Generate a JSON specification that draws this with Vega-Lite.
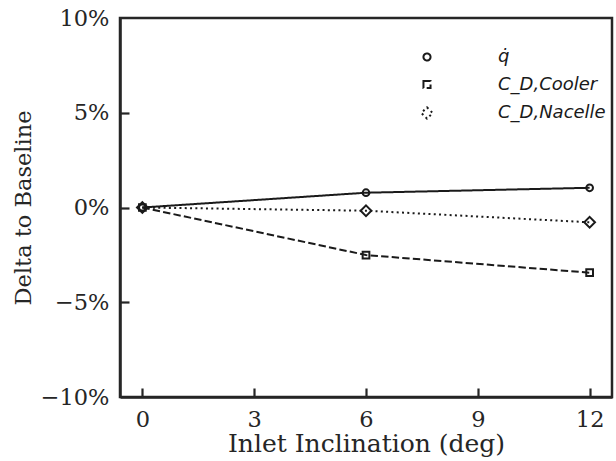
{
  "$schema": "https://vega.github.io/schema/vega-lite/v6.json",
  "width": 492,
  "height": 379,
  "autosize": "none",
  "padding": {"left": 120, "top": 18, "right": 4, "bottom": 64},
  "background": "white",
  "config": {
    "view": {"stroke": "#262626", "strokeWidth": 2.5},
    "axis": {
      "labelFont": "DejaVu Serif",
      "titleFont": "DejaVu Serif",
      "labelFontSize": 22.5,
      "labelColor": "#262626",
      "titleColor": "#262626",
      "titleFontWeight": "normal",
      "domainColor": "#262626",
      "domainWidth": 2.5,
      "tickColor": "#262626",
      "tickWidth": 2.2,
      "ticks": false,
      "labelPadding": 11,
      "grid": false
    },
    "axisX": {"titleFontSize": 25},
    "axisY": {"titleFontSize": 22.5}
  },
  "resolve": {"axis": {"x": "independent", "y": "independent"}},
  "data": {
    "values": [
      {"series": "q", "incl": 0, "delta": 0.0},
      {"series": "q", "incl": 6, "delta": 0.0078},
      {"series": "q", "incl": 12, "delta": 0.0104},
      {"series": "cooler", "incl": 0, "delta": 0.0},
      {"series": "cooler", "incl": 6, "delta": -0.0251},
      {"series": "cooler", "incl": 12, "delta": -0.0344},
      {"series": "nacelle", "incl": 0, "delta": 0.0},
      {"series": "nacelle", "incl": 6, "delta": -0.0017},
      {"series": "nacelle", "incl": 12, "delta": -0.0078}
    ]
  },
  "layer": [
    {
      "mark": {"type": "line", "strokeWidth": 2},
      "encoding": {
        "x": {
          "field": "incl", "type": "quantitative",
          "scale": {"domain": [-0.6, 12.6], "nice": false, "zero": false},
          "axis": {"orient": "bottom", "values": [0, 3, 6, 9, 12], "title": "Inlet Inclination (deg)", "titlePadding": 1}
        },
        "y": {
          "field": "delta", "type": "quantitative",
          "scale": {"domain": [-0.1, 0.1], "nice": false},
          "axis": {"orient": "left", "values": [-0.1, -0.05, 0, 0.05, 0.1], "format": ".0%", "title": "Delta to Baseline", "titlePadding": 5}
        },
        "strokeDash": {
          "field": "series", "type": "nominal",
          "scale": {"domain": ["q", "cooler", "nacelle"], "range": [[1, 0], [7.4, 3.2], [2, 3.3]]},
          "legend": null
        },
        "color": {
          "field": "series", "type": "nominal",
          "scale": {"domain": ["q", "cooler", "nacelle"], "range": ["#1a1a1a", "#1a1a1a", "#1a1a1a"]},
          "legend": {
            "orient": "none", "legendX": 298, "legendY": 30, "title": null, "padding": 0,
            "symbolType": {"expr": "datum.value == 'q' ? 'M-15.556,0L15.556,0 M-0.99,0A0.99,0.99,0,1,1,0.99,0A0.99,0.99,0,1,1,-0.99,0Z' : datum.value == 'cooler' ? 'M-15.556,0L-13.463,0 M-12.558,0L-10.465,0 M-9.56,0L-7.467,0 M-6.562,0L-4.469,0 M-3.564,0L-1.471,0 M-0.566,0L0.566,0 M1.471,0L3.564,0 M4.469,0L6.562,0 M7.467,0L9.56,0 M10.465,0L12.558,0 M13.463,0L15.556,0 M-0.99,-0.99L0.99,-0.99L0.99,0.99L-0.99,0.99Z' : 'M-15.556,0L-14.991,0 M-14.057,0L-13.492,0 M-12.558,0L-11.993,0 M-11.059,0L-10.494,0 M-9.56,0L-8.994,0 M-8.061,0L-7.495,0 M-6.562,0L-5.996,0 M-5.063,0L-4.497,0 M-3.564,0L-2.998,0 M-2.348,0L-1.782,0 M1.782,0L2.348,0 M2.998,0L3.564,0 M4.497,0L5.063,0 M5.996,0L6.562,0 M7.495,0L8.061,0 M8.994,0L9.56,0 M10.494,0L11.059,0 M11.993,0L12.558,0 M13.492,0L14.057,0 M14.991,0L15.556,0 M0,-1.414L1.414,0L0,1.414L-1.414,0Z'"},
            "symbolSize": 50, "symbolStrokeWidth": 2, "symbolFillColor": "transparent",
            "labelOffset": 62, "labelFont": "DejaVu Sans", "labelFontStyle": "italic",
            "labelFontSize": 18, "labelColor": "#1a1a1a", "rowPadding": 9.5,
            "labelExpr": "datum.value == 'q' ? 'q\u0307' : datum.value == 'cooler' ? 'C_D,Cooler' : 'C_D,Nacelle'"
          }
        }
      }
    },
    {
      "mark": {"type": "point", "filled": false, "stroke": "#1a1a1a", "strokeWidth": 2, "size": 45, "opacity": 1},
      "encoding": {
        "x": {
          "field": "incl", "type": "quantitative",
          "axis": {"orient": "top", "offset": -379, "values": [0, 3, 6, 9, 12], "labels": false, "domain": false, "ticks": true, "tickSize": 9, "title": null}
        },
        "y": {
          "field": "delta", "type": "quantitative",
          "axis": {"orient": "right", "offset": -492, "values": [-0.05, 0, 0.05], "labels": false, "domain": false, "ticks": true, "tickSize": 9, "title": null}
        },
        "shape": {
          "field": "series", "type": "nominal",
          "scale": {"domain": ["q", "cooler", "nacelle"], "range": ["circle", "square", "M0,-1.6L1.6,0L0,1.6L-1.6,0Z"]},
          "legend": null
        }
      }
    }
  ]
}
